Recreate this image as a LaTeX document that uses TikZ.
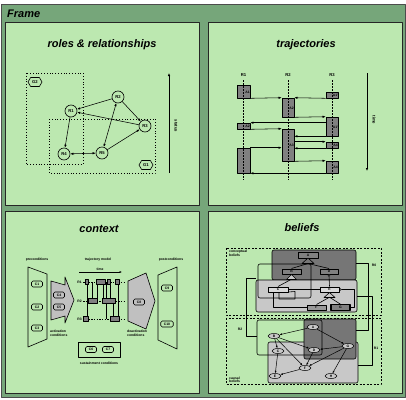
\documentclass[tikz,border=0pt]{standalone}
\usepackage{fontspec}
\setmainfont{Liberation Sans}
\usetikzlibrary{shapes.geometric,shapes.symbols,arrows.meta,calc}
\definecolor{framegreen}{RGB}{118,166,122}
\definecolor{panelgreen}{RGB}{188,232,176}
\definecolor{dgray}{RGB}{118,118,118}
\definecolor{lgray}{RGB}{200,200,200}
\definecolor{mgray}{RGB}{128,128,128}
\definecolor{sgray}{RGB}{192,192,192}
\newcommand\ttlfont{\fontsize{11}{13}\selectfont\bfseries\itshape}
\newcommand\smallf{\fontsize{4.2}{4.6}\selectfont\bfseries}
\newcommand\tinyf{\fontsize{3.4}{3.7}\selectfont\bfseries}
\tikzset{
 panel/.style={draw=black!85, fill=panelgreen, line width=0.7pt},
 ttl/.style={font=\ttlfont, inner sep=0pt},
 lbl/.style={font=\smallf, inner sep=0pt},
 tlbl/.style={font=\tinyf, inner sep=0pt, align=left},
 role/.style={circle, draw, line width=0.6pt, fill=panelgreen, minimum size=12pt, inner sep=0pt, font=\smallf},
 goal/.style={signal, signal to=east and west, signal pointer angle=120, draw, line width=0.6pt, fill=panelgreen, minimum width=14pt, minimum height=9pt, inner sep=0pt, font=\smallf},
 arr/.style={-{Latex[length=3pt,width=2.4pt]}, line width=0.55pt},
 sarr/.style={-{Latex[length=2.4pt,width=2pt]}, line width=0.5pt},
 dbl/.style={{Latex[length=3pt,width=2.4pt]}-{Latex[length=3pt,width=2.4pt]}, line width=0.55pt},
 grp/.style={dotted, line width=0.8pt},
 tbox/.style={draw, line width=0.6pt, fill=mgray, inner sep=0pt},
 life/.style={dash pattern=on 1.5pt off 1.5pt, line width=0.8pt},
 cnode/.style={draw, line width=0.6pt, rounded corners=1.5pt, minimum width=11pt, minimum height=6pt, inner sep=0pt, font=\tinyf},
 sshape/.style={draw, line width=0.6pt, fill=sgray},
 trap/.style={draw, line width=0.6pt},
 cls/.style={draw, line width=0.5pt, inner sep=0pt, font=\tinyf, minimum height=5.5pt},
 ell/.style={ellipse, draw, line width=0.5pt, fill=lgray, minimum width=12pt, minimum height=5pt, inner sep=0pt, font=\tinyf},
 dsh/.style={dash pattern=on 2pt off 1.5pt, line width=0.8pt},
 rel/.style={line width=0.6pt},
}
\begin{document}
\begin{tikzpicture}[x=1pt,y=-1pt,line join=round]
\useasboundingbox (0,0) rectangle (406,399);
\fill[white] (0,0) rectangle (406,399);
\draw[fill=framegreen, draw=black!70, line width=0.6pt] (1,4) rectangle (405,397);
\node[ttl, anchor=west] (frame) at (7,13.5) {Frame};
% panels
\draw[panel] (5,22) rectangle (199,205);
\draw[panel] (208,22) rectangle (402,205);
\draw[panel] (5,211) rectangle (199,393);
\draw[panel] (208,211) rectangle (402,393);
\node[ttl] (t1) at (102,45) {roles \& relationships};
\node[ttl] (t2) at (306,45) {trajectories};
\node[ttl] (t3) at (99,229) {context};
\node[ttl] (t4) at (302,228) {beliefs};

% ---------------- roles & relationships
\draw[grp] (26,73) rectangle (83,164);
\draw[grp] (49,119) rectangle (155,173);
\node[goal] (g2) at (35,82) {G2};
\node[goal] (g1) at (146,165) {G1};
\node[role] (r1) at (71,111) {R1};
\node[role] (r2) at (118,97) {R2};
\node[role] (r3) at (145,126) {R3};
\node[role] (r4) at (64,154) {R4};
\node[role] (r5) at (102,153) {R5};
\draw[arr] (r2) -- (r1);
\draw[arr] (r2) -- (r3);
\draw[arr] (r3) -- (r1);
\draw[arr] (r1) -- (r4);
\draw[dbl] (r4) -- (r5);
\draw[dbl] (r2) -- (r5);
\draw[arr] (r5) -- (r3);
\coordinate (st0) at (169,173);
\coordinate (st1) at (169,73);
\draw[arr] (st0) -- (st1);
\node[lbl, rotate=-90] (status) at (176,126) {status};

% ---------------- trajectories
\node[lbl] (l1) at (243.5,75) {R1};
\node[lbl] (l2) at (288,75) {R2};
\node[lbl] (l3) at (332,75) {R3};
\node[tbox, minimum width=13pt, minimum height=13pt] (b1) at (243.5,91.5) {};
\node[tbox, minimum width=13pt, minimum height=6pt] (b2) at (243.5,126) {};
\node[tbox, minimum width=13pt, minimum height=25pt] (b3) at (243.5,160.5) {};
\node[tbox, minimum width=12pt, minimum height=19pt] (c1) at (288,107.5) {};
\node[tbox, minimum width=12pt, minimum height=32pt] (c2) at (288,145) {};
\node[tbox, minimum width=12pt, minimum height=6pt] (d1) at (332,95) {};
\node[tbox, minimum width=12pt, minimum height=19pt] (d2) at (332,126.5) {};
\node[tbox, minimum width=12pt, minimum height=6pt] (d3) at (332,145) {};
\node[tbox, minimum width=12pt, minimum height=12pt] (d4) at (332,167) {};
\coordinate (ll1a) at (243.5,80); \coordinate (ll1b) at (243.5,180);
\coordinate (ll2a) at (288,80); \coordinate (ll2b) at (288,180);
\coordinate (ll3a) at (332,80); \coordinate (ll3b) at (332,180);
\draw[life] (ll1a) -- (ll1b);
\draw[life] (ll2a) -- (ll2b);
\draw[life] (ll3a) -- (ll3b);
\node[tlbl] (a1) at (247.5,92) {A1};
\node[tlbl] (a2) at (247.5,126) {A2};
\node[tlbl] (a3) at (291.5,108) {A2};
\node[tlbl] (a4) at (291.5,145) {A3};
\node[tlbl] (a5) at (335.5,95.5) {A1'};
\node[tlbl] (a6) at (335.5,127) {A1'};
\node[tlbl] (a7) at (335.5,145) {A4};
\node[tlbl] (a8) at (335.5,167) {A4};
\draw[arr] (b1.south east) -- (c1.north west);
\draw[arr] (d1.south west) -- (c1.north east);
\draw[arr] (c1.south east) -- (d2.north west);
\draw[arr] (d2.west |- b2.north) -- (b2.north east);
\draw[arr] (b2.south east) -- (c2.north west);
\draw[arr] (d2.south west) -- (c2.east |- d2.south);
\draw[arr] (c2.east |- d3.north) -- (d3.north west);
\draw[arr] (d3.south west) -- (c2.east |- d3.south);
\draw[arr] (b3.north east) -- (c2.west |- b3.north);
\draw[arr] (c2.south east) -- (d4.north west);
\draw[arr] (d4.south west) -- (b3.south east);
\coordinate (tm0) at (367,73);
\coordinate (tm1) at (367,171);
\draw[arr] (tm0) -- (tm1);
\node[lbl, rotate=-90] (time1) at (374,120) {time};

% ---------------- context
\node[tlbl] (pre) at (37,260) {preconditions};
\node[tlbl] (tmod) at (98,260) {trajectory model};
\node[tlbl] (post) at (171,260) {postconditions};
\draw[trap] (28,267) -- (47,274) -- (47,339) -- (28,347) -- cycle;
\node[cnode] (k1) at (37,284) {C1};
\node[cnode] (k2) at (37,307) {C2};
\node[cnode] (k3) at (37,328) {C3};
\draw[sshape] (51,281) -- (65,285) -- (65,277) -- (74,300) -- (65,323) -- (65,316) -- (51,320) -- cycle;
\node[cnode] (k4) at (59,295) {C4};
\node[cnode] (k5) at (59,307) {C5};
\node[tlbl, anchor=north west] (act) at (50,330) {activation\\conditions};
% trajectory model
\coordinate (tt0) at (79,272); \coordinate (tt1) at (122,272);
\draw[sarr] (tt0) -- (tt1);
\node[tlbl] (ttime) at (100,269) {time};
\foreach \y/\t in {282/1,301/2,319/3}{
  \node[tlbl, anchor=east] (rl\t) at (82,\y) {R\t};
  \draw[dash pattern=on 1.5pt off 1.2pt, line width=0.5pt] (83,\y) -- (124,\y);
}
\draw[line width=0.5pt] (87,282) -- (87,319);
\draw[line width=0.5pt] (92,282) -- (92,301);
\draw[line width=0.5pt] (97,282) -- (97,301);
\draw[line width=0.5pt] (103,282) -- (103,301);
\draw[line width=0.5pt] (106,282) -- (106,319);
\draw[line width=0.5pt] (110,282) -- (110,301);
\draw[line width=0.5pt] (113,301) -- (113,319);
\draw[line width=0.5pt] (118,282) -- (118,319);
\draw[tbox] (85,279.5) rectangle (88.5,284.5);
\draw[tbox] (96,279.5) rectangle (105,284.5);
\draw[tbox] (107,279.5) rectangle (110.5,284.5);
\draw[tbox] (115,279.5) rectangle (119,284.5);
\draw[tbox] (88,298.5) rectangle (97,303.5);
\draw[tbox] (102,298.5) rectangle (115,303.5);
\draw[tbox] (83,316.5) rectangle (88,321.5);
\draw[tbox] (110,316.5) rectangle (119,321.5);
% deactivation
\draw[sshape] (128,281) -- (146,273) -- (155,301) -- (146,329) -- (128,321) -- cycle;
\node[cnode] (k8) at (139,302) {C8};
\node[tlbl, anchor=north west] (deact) at (127,330) {deactivation\\conditions};
\draw[trap] (158,275) -- (177,267) -- (177,349) -- (158,340) -- cycle;
\node[cnode] (k9) at (167,288) {C9};
\node[cnode, minimum width=12.5pt] (k10) at (167,324) {C10};
\draw[trap] (78,342) rectangle (120,357);
\node[cnode] (k6) at (91,349.5) {C6};
\node[cnode] (k7) at (108,349.5) {C7};
\node[tlbl] (sus) at (99,363) {sustainment conditions};

% ---------------- beliefs
\draw[dsh] (226,248) rectangle (381,315);
\draw[dsh] (226,318) rectangle (381,384);
\node[tlbl, anchor=north west] (cbl) at (229,250) {conceptual\\beliefs};
\node[tlbl, anchor=south west] (kbl) at (229,383) {causal\\beliefs};
\draw[rel, fill=dgray, rounded corners=2pt] (272,250) rectangle (356,280);
\draw[rel, fill=lgray, rounded corners=2pt] (256,280) rectangle (357,312);
\draw[rel, rounded corners=2pt] (258,264) rectangle (311,298);
\node[cls, fill=mgray, minimum width=20pt] (cA) at (308,255) {A};
\node[cls, fill=mgray, minimum width=19pt] (cB) at (291.5,271.5) {B};
\node[cls, fill=mgray, minimum width=18pt] (cD) at (329,271.5) {D};
\node[cls, fill=lgray!70!white, minimum width=20pt] (cC) at (278,289.5) {C};
\node[cls, fill=lgray!70!white, minimum width=19pt] (cE) at (329.5,289.5) {E};
\node[cls, fill=mgray!80!white, minimum width=19pt] (cF) at (316.5,307.5) {F};
\node[cls, fill=mgray, line width=1.1pt, minimum width=19pt] (cG) at (340.5,307.5) {G};
\draw[rel, fill=dgray] (cA.south) -- ++(-6,5.5) -- ++(12,0) -- cycle;
\coordinate (tA) at (308,263.5);
\draw[rel] (tA) -- (cB.north);
\draw[rel] (tA) -- (cD.north);
\draw[rel, fill=lgray] (cB.south) -- ++(-5,5) -- ++(10,0) -- cycle;
\coordinate (tB) at (291.5,279.2);
\draw[rel] (tB) -- (cC.north);
\draw[rel, fill=lgray] (cE.south) -- ++(-5.5,5) -- ++(11,0) -- cycle;
\coordinate (tE) at (329.5,297.2);
\draw[rel] (tE) -- (cF.north);
\draw[rel] (tE) -- (cG.north);
\draw[rel] (cD.south) -- (cE.north);
\draw[line width=0.4pt, fill=white] ($(cD.south)+(0,1)$) circle (1pt);
\draw[rel] (cC.east) -- (cE.west);
\coordinate (lp1) at (295,291.5);
\coordinate (lp2) at (295,299);
\coordinate (lp3) at (279,299);
\draw[rel] (cC.south east) ++(0,-0.5) -- (lp1) -- (lp2) -- (lp3) -- (lp3 |- cC.south);
\coordinate (cf1) at (273,307.5);
\draw[rel] (cf1 |- cC.south) -- (cf1) -- (cF.west);
\coordinate (ge1) at (354,307.5);
\coordinate (ge2) at (354,289.5);
\draw[rel] (cG.east) -- (ge1) -- (ge2) -- (cE.east);
\draw[line width=0.4pt, fill=white] ($(cE.east)+(1,0)$) circle (1pt);
% causal
\draw[rel, fill=lgray, rounded corners=2pt] (268,342) rectangle (358,383);
\draw[rel, fill=dgray, rounded corners=2pt] (304,319) rectangle (356,359);
\draw[rel, rounded corners=2pt] (257,320) rectangle (322,355);
\node[ell] (kA) at (313,327) {A};
\node[ell] (kB) at (274,336) {B};
\node[ell] (kC) at (278,351) {C};
\node[ell] (kD) at (314,350) {D};
\node[ell] (kG) at (348,346) {G};
\node[ell] (kF) at (305,368) {F};
\node[ell] (kE) at (275,376) {E};
\node[ell] (kH) at (331,376) {H};
\draw[sarr] (kA) -- (kB);
\draw[sarr] (kA) -- (kG);
\draw[sarr] (kB) -- (kC);
\draw[sarr] (kB) -- (kD);
\draw[sarr] (kB) -- (kF);
\draw[sarr] (kG) -- (kD);
\draw[sarr] (kG) -- (kF);
\draw[sarr] (kG) -- (kH);
\draw[sarr] (kD) -- (kF);
\draw[sarr] (kC) -- (kE);
\draw[sarr] (kF) -- (kE);
% relations between levels
\coordinate (q0a) at (356,263); \coordinate (q0b) at (368,263);
\coordinate (q0c) at (368,330); \coordinate (q0d) at (356,330);
\draw[rel] (q0a) -- (q0b) -- (q0c) -- (q0d);
\node[tlbl] (R0) at (374,265) {R0};
\coordinate (q1a) at (357,296); \coordinate (q1b) at (372,296);
\coordinate (q1c) at (372,365); \coordinate (q1d) at (358,365);
\draw[rel] (q1a) -- (q1b) -- (q1c) -- (q1d);
\node[tlbl] (R1) at (376,348) {R1};
\coordinate (q2a) at (256,278); \coordinate (q2b) at (246,278);
\coordinate (q2c) at (246,336); \coordinate (q2d) at (257,336);
\draw[rel] (q2a) -- (q2b) -- (q2c) -- (q2d);
\node[tlbl] (R2) at (240,329) {R2};
\end{tikzpicture}
\end{document}
